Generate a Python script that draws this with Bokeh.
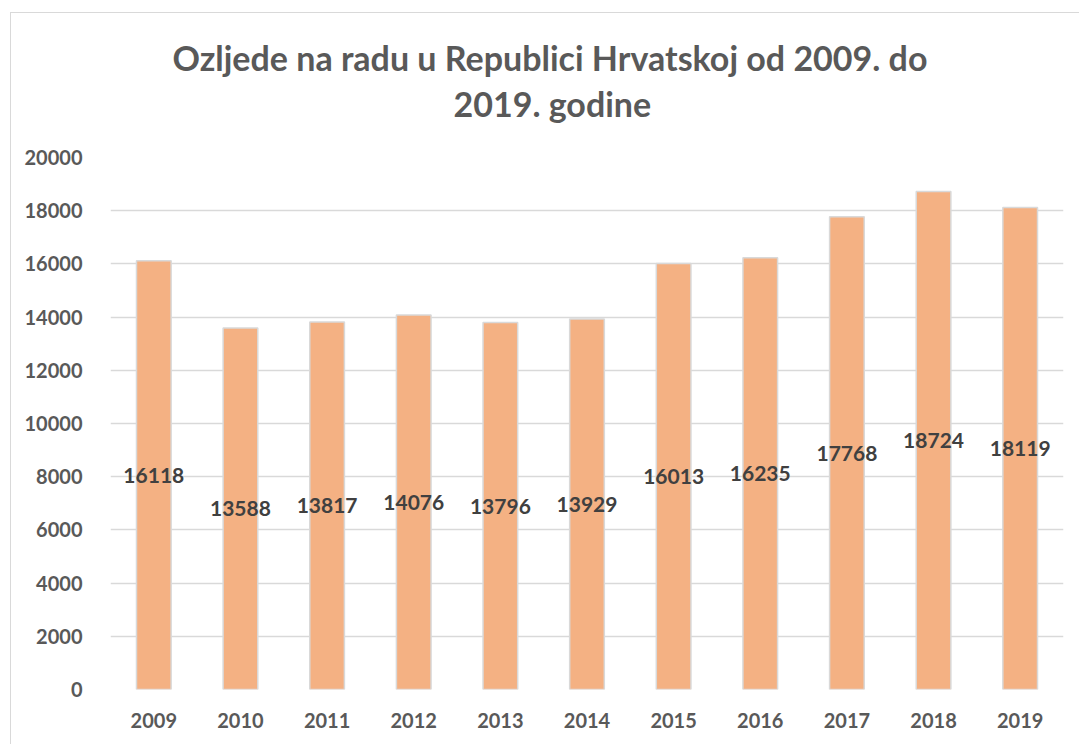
from bokeh.plotting import figure
from bokeh.models import ColumnDataSource, Title, FixedTicker, Range1d
from bokeh.core.properties import value
from bokeh.embed import file_html
from bokeh.resources import INLINE

years = ["2009", "2010", "2011", "2012", "2013", "2014", "2015", "2016", "2017", "2018", "2019"]
injuries = [16118, 13588, 13817, 14076, 13796, 13929, 16013, 16235, 17768, 18724, 18119]
y_ticks = [0, 2000, 4000, 6000, 8000, 10000, 12000, 14000, 16000, 18000, 20000]
title_line1 = "Ozljede na radu u Republici Hrvatskoj od 2009. do"
title_line2 = "2019. godine"

FONT = "Lato"
src = ColumnDataSource(dict(
    x=years, top=injuries,
    mid=[v / 2 for v in injuries],
    lbl=[str(v) for v in injuries],
))

p = figure(x_range=years, y_range=Range1d(0, 20000), width=1069, height=732,
           output_backend="svg", toolbar_location=None,
           min_border_left=99, min_border_right=17, min_border_bottom=56, min_border_top=144)
p.margin = (12, 0, 0, 10)
p.styles = {"border-left": "1px solid #d9d9d9", "border-top": "1px solid #d9d9d9"}
p.outline_line_color = None
p.background_fill_color = "white"
p.border_fill_color = "white"

p.vbar(x="x", top="top", width=0.40, source=src, fill_color="#F4B183",
       line_color="#d9d9d9", line_width=1.5)
p.text(x="x", y="mid", text="lbl", source=src, text_align="center", text_baseline="middle",
       text_font=value(FONT), text_font_style="bold", text_font_size="21px", text_color="#404040")

p.xgrid.grid_line_color = None
p.ygrid.grid_line_color = "#d9d9d9"
p.ygrid.grid_line_width = 1.5
p.yaxis.ticker = FixedTicker(ticks=y_ticks)

for ax in (p.xaxis, p.yaxis):
    ax.axis_line_color = None
    ax.major_tick_line_color = None
    ax.minor_tick_line_color = None
    ax.major_label_text_font = FONT
    ax.major_label_text_font_style = "bold"
    ax.major_label_text_font_size = "20px"
    ax.major_label_text_color = "#595959"
p.yaxis.major_label_standoff = 22
p.xaxis.major_label_standoff = 17

spacer = Title(text=" ", text_font=FONT, text_font_size="10px", standoff=20)
t2 = Title(text=title_line2, align="left", text_font=FONT, text_font_style="bold",
           text_font_size="34px", text_color="#595959", offset=343, standoff=0)
t1 = Title(text=title_line1, align="left", text_font=FONT, text_font_style="bold",
           text_font_size="34px", text_color="#595959", offset=62, standoff=6)
p.add_layout(spacer, "above")
p.add_layout(t2, "above")
p.add_layout(t1, "above")

open("out.html", "w").write(file_html(p, INLINE))
